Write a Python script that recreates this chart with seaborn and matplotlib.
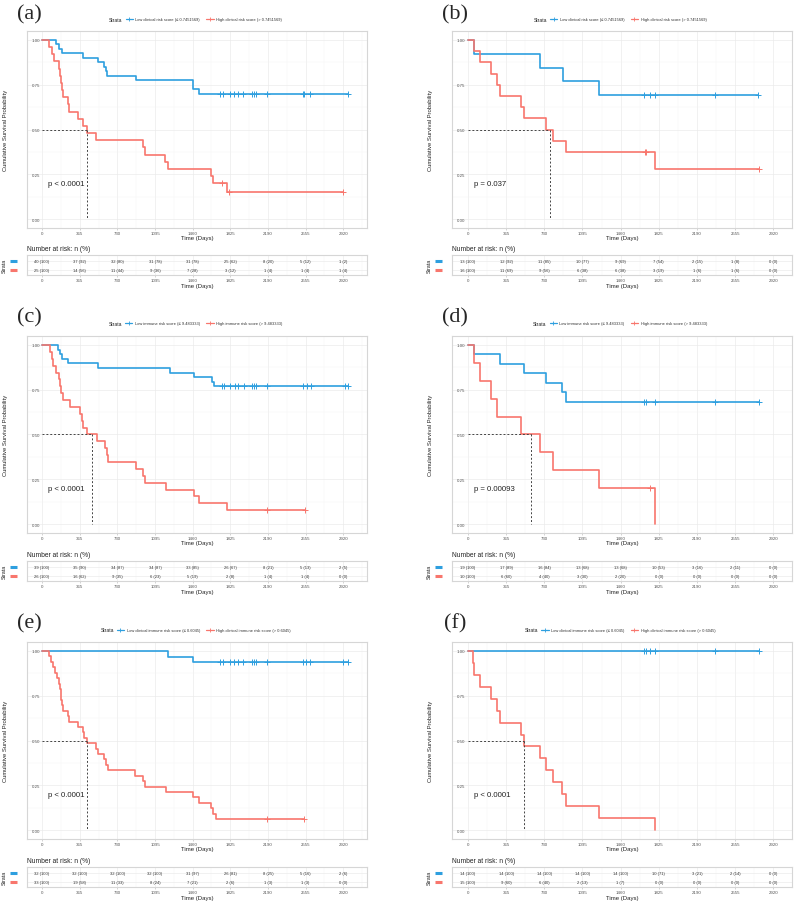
import numpy as np
import pandas as pd
import matplotlib
matplotlib.use("Agg")
import matplotlib.pyplot as plt
import matplotlib.transforms as mtransforms
from matplotlib.lines import Line2D
from matplotlib.ticker import MultipleLocator
import seaborn as sns

sns.set_theme(style="white")
plt.rcParams['font.family'] = ['Liberation Sans', 'DejaVu Sans']

BLUE = "#2E9FDF"
RED = "#F8766D"

time_ticks = [0, 365, 730, 1095, 1460, 1825, 2190, 2555, 2920]

# ---- (a) clinical risk score, cohort 1
a_low_t = [0, 136, 161, 191, 394, 539, 604, 620, 633, 908, 1460, 1521]
a_low_s = [1.0, 0.975, 0.95, 0.925, 0.90, 0.875, 0.85, 0.825, 0.80, 0.775, 0.725, 0.70]
a_low_cens = [1725, 1751, 1822, 1864, 1896, 1951, 2032, 2055, 2071, 2177, 2526, 2542, 2597, 2962]
a_high_t = [0, 71, 94, 120, 161, 174, 184, 191, 200, 255, 265, 352, 401, 439, 523,
            975, 998, 1192, 1224, 1634, 1660, 1789]
a_high_s = [1.0, 0.96, 0.92, 0.88, 0.84, 0.80, 0.76, 0.72, 0.68, 0.64, 0.60, 0.56, 0.52, 0.48, 0.44,
            0.40, 0.36, 0.32, 0.28, 0.24, 0.20, 0.15]
a_high_cens = [1741, 1815, 2913]
a_median = 439
a_pval = "p < 0.0001"
a_risk_low = ["40 (100)", "37 (92)", "32 (80)", "31 (78)", "31 (78)", "25 (62)", "8 (20)", "5 (12)", "1 (2)"]
a_risk_high = ["25 (100)", "14 (56)", "11 (44)", "9 (36)", "7 (28)", "3 (12)", "1 (4)", "1 (4)", "1 (4)"]

# ---- (b) clinical risk score, cohort 2
b_low_t = [0, 54, 692, 906, 1254]
b_low_s = [1.0, 0.923, 0.846, 0.769, 0.692]
b_low_cens = [1682, 1745, 1793, 2368, 2776]
b_high_t = [0, 54, 118, 220, 278, 310, 507, 539, 747, 814, 941, 1793]
b_high_s = [1.0, 0.9375, 0.875, 0.8125, 0.75, 0.6875, 0.625, 0.5625, 0.50, 0.4375, 0.375, 0.28]
b_high_cens = [1691, 1707, 2782]
b_median = 781
b_pval = "p = 0.037"
b_risk_low = ["13 (100)", "12 (92)", "11 (85)", "10 (77)", "9 (69)", "7 (54)", "2 (15)", "1 (8)", "0 (0)"]
b_risk_high = ["16 (100)", "11 (69)", "9 (56)", "6 (38)", "6 (38)", "3 (19)", "1 (6)", "1 (6)", "0 (0)"]

# ---- (c) immune risk score, cohort 1
c_low_t = [0, 159, 175, 191, 256, 547, 1237, 1470, 1648, 1664]
c_low_s = [1.0, 0.974, 0.949, 0.923, 0.897, 0.872, 0.846, 0.821, 0.795, 0.77]
c_low_cens = [1745, 1761, 1826, 1868, 1900, 1955, 2036, 2059, 2075, 2182, 2532, 2564, 2603, 2936, 2969]
c_high_t = [0, 78, 94, 110, 133, 162, 175, 185, 201, 272, 363, 385, 401, 440, 531, 612, 628, 644,
            913, 978, 1000, 1201, 1470, 1525, 1793]
c_high_s = [1.0, 0.962, 0.923, 0.885, 0.846, 0.808, 0.769, 0.731, 0.692, 0.654, 0.615, 0.577, 0.538,
            0.50, 0.462, 0.423, 0.385, 0.346, 0.308, 0.269, 0.231, 0.192, 0.154, 0.115, 0.077]
c_high_cens = [2182, 2548]
c_median = 485
c_pval = "p < 0.0001"
c_risk_low = ["39 (100)", "35 (90)", "34 (87)", "34 (87)", "33 (85)", "26 (67)", "8 (21)", "5 (13)", "2 (5)"]
c_risk_high = ["26 (100)", "16 (62)", "9 (35)", "6 (23)", "5 (19)", "2 (8)", "1 (4)", "1 (4)", "0 (0)"]

# ---- (d) immune risk score, cohort 2
d_low_t = [0, 54, 310, 539, 747, 900, 941]
d_low_s = [1.0, 0.947, 0.895, 0.842, 0.789, 0.737, 0.684]
d_low_cens = [1682, 1707, 1793, 2368, 2782]
d_high_t = [0, 54, 118, 220, 278, 507, 692, 814, 1251, 1793]
d_high_s = [1.0, 0.9, 0.8, 0.7, 0.6, 0.5, 0.4, 0.3, 0.2, 0.0]
d_high_cens = [1739]
d_median = 600
d_pval = "p = 0.00093"
d_risk_low = ["19 (100)", "17 (89)", "16 (84)", "13 (68)", "13 (68)", "10 (53)", "3 (16)", "2 (11)", "0 (0)"]
d_risk_high = ["10 (100)", "6 (60)", "4 (40)", "3 (30)", "2 (20)", "0 (0)", "0 (0)", "0 (0)", "0 (0)"]

# ---- (e) clinical immune risk score, cohort 1
e_low_t = [0, 1224, 1466]
e_low_s = [1.0, 0.969, 0.9375]
e_low_cens = [1725, 1751, 1822, 1864, 1896, 1951, 2032, 2055, 2071, 2177, 2526, 2558, 2597, 2913, 2962]
e_high_t = [0, 71, 84, 110, 126, 149, 161, 174, 181, 184, 191, 200, 255, 265, 352, 394, 407, 439,
            523, 539, 604, 620, 636, 901, 982, 998, 1202, 1466, 1521, 1634, 1660, 1686]
e_high_s = [1.0, 0.970, 0.939, 0.909, 0.879, 0.848, 0.818, 0.788, 0.758, 0.727, 0.697, 0.667,
            0.636, 0.606, 0.576, 0.545, 0.515, 0.485, 0.455, 0.424, 0.394, 0.364, 0.333,
            0.303, 0.273, 0.242, 0.212, 0.182, 0.152, 0.121, 0.091, 0.061]
e_high_cens = [2177, 2542]
e_median = 439
e_pval = "p < 0.0001"
e_risk_low = ["32 (100)", "32 (100)", "32 (100)", "32 (100)", "31 (97)", "26 (81)", "8 (25)", "5 (16)", "2 (6)"]
e_risk_high = ["33 (100)", "19 (58)", "11 (33)", "8 (24)", "7 (21)", "2 (6)", "1 (3)", "1 (3)", "0 (0)"]

# ---- (f) clinical immune risk score, cohort 2
f_low_t = [0]
f_low_s = [1.0]
f_low_cens = [1682, 1707, 1745, 1793, 2368, 2782]
f_high_t = [0, 48, 61, 118, 220, 278, 310, 507, 539, 692, 747, 814, 900, 941, 1251, 1793]
f_high_s = [1.0, 0.933, 0.867, 0.80, 0.733, 0.667, 0.60, 0.533, 0.467, 0.40, 0.333, 0.267, 0.20,
            0.133, 0.067, 0.0]
f_high_cens = []
f_median = 539
f_pval = "p < 0.0001"
f_risk_low = ["14 (100)", "14 (100)", "14 (100)", "14 (100)", "14 (100)", "10 (71)", "3 (21)", "2 (14)", "0 (0)"]
f_risk_high = ["15 (100)", "9 (60)", "6 (40)", "2 (13)", "1 (7)", "0 (0)", "0 (0)", "0 (0)", "0 (0)"]

clin_labels = ["Low clinical risk score (\u2264 0.7451569)", "High clinical risk score (> 0.7451569)"]
imm_labels = ["Low immune risk score (\u2264 9.483333)", "High immune risk score (> 9.483333)"]
ci_labels = ["Low clinical immune risk score (\u2264 0.6045)", "High clinical immune risk score (> 0.6045)"]

panels = [
    ("(a)", 0, 0, (a_low_t, a_low_s, a_low_cens), (a_high_t, a_high_s, a_high_cens), a_median, a_pval, a_risk_low, a_risk_high, clin_labels),
    ("(b)", 0, 1, (b_low_t, b_low_s, b_low_cens), (b_high_t, b_high_s, b_high_cens), b_median, b_pval, b_risk_low, b_risk_high, clin_labels),
    ("(c)", 1, 0, (c_low_t, c_low_s, c_low_cens), (c_high_t, c_high_s, c_high_cens), c_median, c_pval, c_risk_low, c_risk_high, imm_labels),
    ("(d)", 1, 1, (d_low_t, d_low_s, d_low_cens), (d_high_t, d_high_s, d_high_cens), d_median, d_pval, d_risk_low, d_risk_high, imm_labels),
    ("(e)", 2, 0, (e_low_t, e_low_s, e_low_cens), (e_high_t, e_high_s, e_high_cens), e_median, e_pval, e_risk_low, e_risk_high, ci_labels),
    ("(f)", 2, 1, (f_low_t, f_low_s, f_low_cens), (f_high_t, f_high_s, f_high_cens), f_median, f_pval, f_risk_low, f_risk_high, ci_labels),
]

W, H = 794, 904
fig = plt.figure(figsize=(W / 100, H / 100), dpi=100)

plot_tops = [32, 337, 643]
table_tops = [256, 562, 868]
legend_ys = [20, 324, 631]
letter_ys = [15, 318, 624]
col_x = [27, 452]
letter_xs = [29, 455]
centers = [195.5, 620]
xlims = [(-146, 3150), (-153, 3100)]
PW, PH, TH = 340, 197, 20


def rect(x, top, w, h):
    return [x / W, 1 - (top + h) / H, w / W, h / H]


def style_box(ax):
    ax.set_facecolor("white")
    for sp in ax.spines.values():
        sp.set_color("#D6D6D6")
        sp.set_linewidth(0.8)
    ax.grid(True, which="major", color="#EBEBEB", lw=0.5)
    ax.grid(True, which="minor", color="#F4F4F4", lw=0.3)
    ax.set_axisbelow(True)


def curve_df(t, s, cens):
    end = max([t[-1]] + list(cens))
    return pd.DataFrame({"time": list(t) + [end], "surv": list(s) + [s[-1]]})


legend_items = []
for tag, row, col, lo, hi, med, pval, risk_lo, risk_hi, labels in panels:
    x0 = col_x[col]
    ax = fig.add_axes(rect(x0, plot_tops[row], PW, PH))
    style_box(ax)
    for (t, s, cens), color in ((lo, BLUE), (hi, RED)):
        df = curve_df(t, s, cens)
        sns.lineplot(data=df, x="time", y="surv", drawstyle="steps-post", color=color,
                     lw=1.2, estimator=None, sort=False, ax=ax)
        if len(cens):
            idx = np.searchsorted(t, cens, side="right") - 1
            cdf = pd.DataFrame({"time": cens, "surv": np.array(s)[idx]})
            sns.scatterplot(data=cdf, x="time", y="surv", marker="+", s=16, linewidth=0.7,
                            color=color, ax=ax, zorder=4)
    ax.plot([0, med], [0.5, 0.5], ls=(0, (2, 2)), color="#444444", lw=0.7)
    ax.plot([med, med], [0.5, 0], ls=(0, (2, 2)), color="#444444", lw=0.7)
    ax.text(60, 0.2, pval, fontsize=5.6, ha="left", va="center", color="#222222")

    ax.set_xlim(*xlims[col])
    ax.set_ylim(-0.05, 1.05)
    ax.set_xticks(time_ticks)
    ax.set_yticks([0, 0.25, 0.5, 0.75, 1.0])
    ax.set_yticklabels(["0.00", "0.25", "0.50", "0.75", "1.00"])
    ax.xaxis.set_minor_locator(MultipleLocator(182.5))
    ax.yaxis.set_minor_locator(MultipleLocator(0.125))
    ax.tick_params(axis="x", which="major", labelsize=3.2, length=1.2, width=0.4,
                   color="#B0B0B0", pad=0.8, labelcolor="#555555", bottom=True)
    ax.tick_params(axis="y", which="major", labelsize=3.2, length=0, pad=-9.4,
                   labelcolor="#555555", left=True)
    ax.tick_params(which="minor", length=0)
    ax.set_xlabel("Time (Days)", fontsize=4.3, color="#222222")
    ax.set_ylabel("Cumulative Survival Probability", fontsize=4.2, color="#222222")
    ax.xaxis.set_label_coords(0.5, -0.036)
    ax.yaxis.set_label_coords(-0.056, 0.5)

    # risk table
    axt = fig.add_axes(rect(x0, table_tops[row], PW, TH))
    style_box(axt)
    axt.set_xlim(*xlims[col])
    axt.set_ylim(-0.6, 1.65)
    axt.set_xticks(time_ticks)
    axt.set_yticks([0, 1])
    axt.set_yticklabels(["", ""])
    axt.xaxis.set_minor_locator(MultipleLocator(182.5))
    for tk, lab_lo, lab_hi in zip(time_ticks, risk_lo, risk_hi):
        axt.text(tk, 1, lab_lo, fontsize=3.0, ha="center", va="center", color="#333333")
        axt.text(tk, 0, lab_hi, fontsize=3.0, ha="center", va="center", color="#333333")
    tr = mtransforms.blended_transform_factory(axt.transAxes, axt.transData)
    axt.plot([-0.05, -0.028], [1, 1], color=BLUE, lw=2.2, transform=tr, clip_on=False,
             solid_capstyle="butt")
    axt.plot([-0.05, -0.028], [0, 0], color=RED, lw=2.2, transform=tr, clip_on=False,
             solid_capstyle="butt")
    axt.tick_params(axis="x", which="major", labelsize=3.2, length=1.2, width=0.4,
                    color="#B0B0B0", pad=0.8, labelcolor="#555555", bottom=True)
    axt.tick_params(axis="y", length=0)
    axt.tick_params(which="minor", length=0)
    axt.set_xlabel("Time (Days)", fontsize=4.3, color="#222222")
    axt.set_ylabel("Strata", fontsize=3.8, color="#222222")
    axt.xaxis.set_label_coords(0.5, -0.42)
    axt.yaxis.set_label_coords(-0.058, 0.5)
    axt.text(0, 1 + 6 / TH, "Number at risk: n (%)", transform=axt.transAxes,
             fontsize=4.8, ha="left", va="center", color="#222222")

    # panel letter
    fig.text(letter_xs[col] / W, 1 - letter_ys[row] / H, tag, fontsize=16,
             family=["Liberation Serif", "DejaVu Serif"], ha="center", va="center")

    # legend
    ly = 1 - legend_ys[row] / H
    st = fig.text(0, ly, "Strata", fontsize=3.6, ha="left", va="center", color="#222222")
    handles = [Line2D([], [], color=BLUE, lw=0.9, marker="+", markersize=2.5, markeredgewidth=0.6),
               Line2D([], [], color=RED, lw=0.9, marker="+", markersize=2.5, markeredgewidth=0.6)]
    leg = fig.legend(handles, labels, loc="center left", bbox_to_anchor=(0.1, ly), ncol=2,
                     frameon=False, fontsize=2.9, handlelength=1.8, handletextpad=0.6,
                     columnspacing=1.6, borderpad=0, borderaxespad=0)
    for txt in leg.get_texts():
        txt.set_color("#333333")
    legend_items.append((st, leg, centers[col], ly))

fig.canvas.draw()
renderer = fig.canvas.get_renderer()
for st, leg, cx, ly in legend_items:
    tw = st.get_window_extent(renderer).width
    lw_ = leg.get_window_extent(renderer).width
    left = cx - (tw + 3 + lw_) / 2
    st.set_x(left / W)
    leg.set_bbox_to_anchor(((left + tw + 3) / W, ly), transform=fig.transFigure)

fig.savefig("out.png", dpi=100, facecolor="white")
